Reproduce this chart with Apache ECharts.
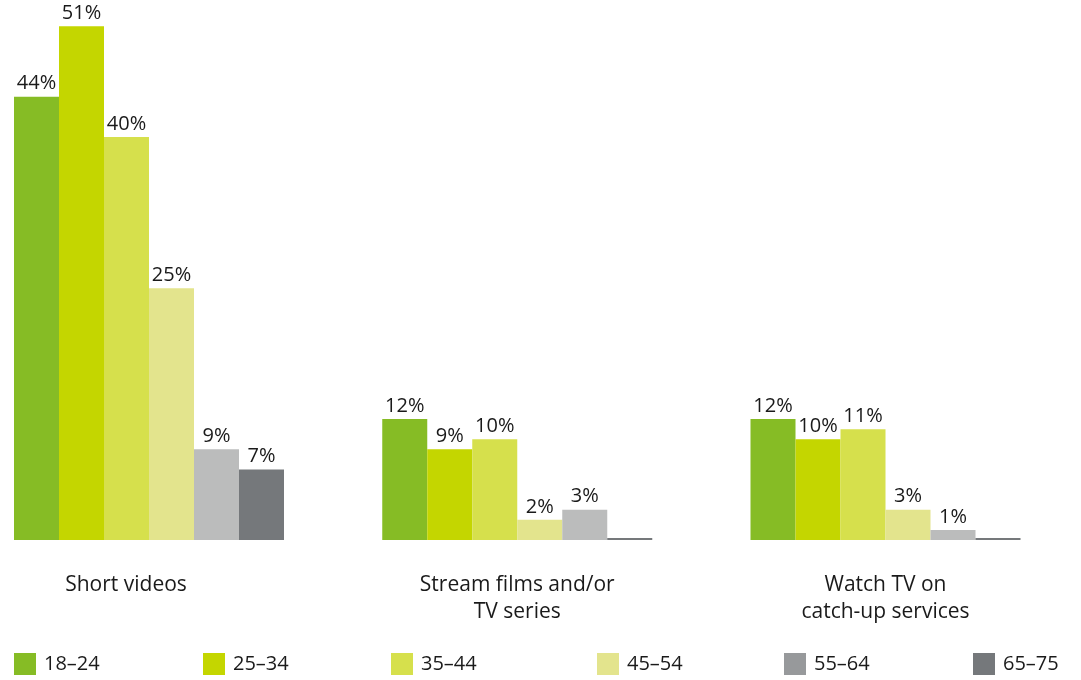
<!DOCTYPE html>
<html>
<head>
<meta charset="utf-8">
<script src="https://cdn.jsdelivr.net/npm/echarts@6/dist/echarts.min.js"></script>
<style>
  html, body { margin: 0; padding: 0; background: #fff; }
  #chart { width: 1081px; height: 680px; }
</style>
</head>
<body>
<div id="chart"></div>
<script>
// Activities by age group, share of respondents (%)
const categories = ['Short videos', 'Stream films and/or\nTV series', 'Watch TV on\ncatch-up services'];
const ageGroups = ['18–24', '25–34', '35–44', '45–54', '55–64', '65–75'];
const values18_24 = [44, 12, 12];
const values25_34 = [51, 9, 10];
const values35_44 = [40, 10, 11];
const values45_54 = [25, 2, 3];
const values55_64 = [9, 3, 1];
const values65_75 = [7, 0, 0];

const seriesValues = [values18_24, values25_34, values35_44, values45_54, values55_64, values65_75];
const barColors = ['#86bc25', '#c4d600', '#d6e04c', '#e3e48d', '#bbbcbc', '#75787b'];
const legendColors = ['#86bc25', '#c4d600', '#d6e04c', '#e3e48d', '#97999b', '#75787b'];
const legendLeft = [14, 203, 391, 597, 784, 973];

const FONT = '"Open Sans", "Noto Sans", sans-serif';
const TEXT = '#1a1a1a';

const chart = echarts.init(document.getElementById('chart'), null, { renderer: 'canvas' });

// the first category caption sits a little left of its bar group
const axisData = categories.map((c, i) =>
  i === 0 ? { value: c, textStyle: { padding: [0, 46, 0, 0] } } : c
);

chart.setOption({
  animation: false,
  // group centres sit on the axis ticks (boundaryGap off), bars spill past the grid edges
  grid: { left: 149, right: 195.5, top: 0, height: 540, containLabel: false },
  xAxis: {
    type: 'category',
    data: axisData,
    boundaryGap: false,
    axisLine: { show: false },
    axisTick: { show: false },
    axisLabel: {
      margin: 32,
      fontFamily: FONT,
      fontSize: 21,
      color: TEXT,
      lineHeight: 27,
      verticalAlign: 'top'
    }
  },
  yAxis: {
    type: 'value',
    min: 0,
    max: 53.6,
    show: false,
    splitLine: { show: false }
  },
  legend: ageGroups.map((name, i) => ({
    data: [{ name: name, itemStyle: { color: legendColors[i] } }],
    left: legendLeft[i],
    top: 653,
    itemWidth: 22,
    itemHeight: 22,
    itemGap: 0,
    padding: 0,
    selectedMode: false,
    icon: 'rect',
    textStyle: { fontFamily: FONT, fontSize: 20, color: TEXT, padding: [0, 0, 0, 3] }
  })),
  series: ageGroups.map((name, i) => ({
    name: name,
    type: 'bar',
    data: seriesValues[i],
    barWidth: 45,
    barGap: '0%',
    clip: false,
    barMinHeight: i === 5 ? 2 : 0,
    itemStyle: { color: barColors[i] },
    label: {
      show: true,
      position: 'top',
      distance: 3,
      fontFamily: FONT,
      fontSize: 20,
      color: TEXT,
      formatter: p => (p.value > 0 ? p.value + '%' : '')
    }
  }))
});
</script>
</body>
</html>
